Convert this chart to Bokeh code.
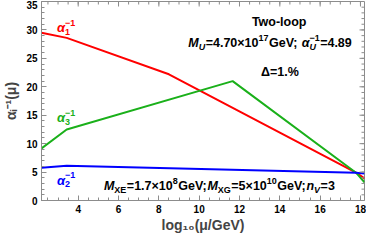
import numpy as np
from bokeh.plotting import figure
from bokeh.models import Label, SingleIntervalTicker
from bokeh.embed import file_html
from bokeh.resources import INLINE

# ---- data ----
mu_a1 = [2.18, 3.43, 8.5, 17.78, 18.2]
inv_a1 = [29.5, 28.6, 22.2, 4.89, 3.9]
mu_a3 = [2.18, 3.43, 11.66, 17.78, 18.2]
inv_a3 = [9.15, 12.5, 21.0, 4.89, 3.2]
mu_a2 = [2.18, 3.43, 17.78, 18.2]
inv_a2 = [5.76, 6.1, 4.89, 4.75]
x_range = (2.18, 18.2)
y_range = (0, 35)
x_major, x_minor_n = 2, 4
y_major, y_minor_n = 5, 5

RED = "#FF0000"
GREEN = "#1AB01A"
BLUE = "#0000FF"
FRAME = "#8C8C8C"
FONT = "Liberation Sans"

p = figure(width=366, height=236, x_range=x_range, y_range=y_range,
           output_backend="svg", toolbar_location=None,
           min_border_left=0, min_border_right=2, min_border_top=1, min_border_bottom=36)
p.xgrid.visible = False
p.ygrid.visible = False
p.outline_line_color = FRAME
p.background_fill_color = "white"

p.line(mu_a1, inv_a1, line_color=RED, line_width=2)
p.line(mu_a3, inv_a3, line_color=GREEN, line_width=2)
p.line(mu_a2, inv_a2, line_color=BLUE, line_width=2)

for ax in (p.xaxis[0], p.yaxis[0]):
    ax.axis_line_color = FRAME
    ax.major_tick_line_color = FRAME
    ax.minor_tick_line_color = FRAME
    ax.major_tick_in = 5
    ax.major_tick_out = 0
    ax.minor_tick_in = 3
    ax.minor_tick_out = 0
    ax.major_label_text_font = FONT
    ax.major_label_text_font_style = "bold"
    ax.major_label_text_font_size = "10px"
    ax.major_label_text_color = "black"

p.xaxis.ticker = SingleIntervalTicker(interval=x_major, num_minor_ticks=x_minor_n)
p.yaxis.ticker = SingleIntervalTicker(interval=y_major, num_minor_ticks=y_minor_n)
p.xaxis.major_label_standoff = 4
p.yaxis.major_label_standoff = 4
p.xaxis.axis_label = "log\u2081\u2080(\u03bc/GeV)"
p.xaxis.axis_label_text_font = FONT
p.xaxis.axis_label_text_font_style = "bold"
p.xaxis.axis_label_text_font_size = "14px"
p.xaxis.axis_label_standoff = 1
p.yaxis.axis_label = "\u03b1\u1d62\u207b\u00b9(\u03bc)"
p.yaxis.axis_label_text_font = FONT
p.yaxis.axis_label_text_font_style = "bold"
p.yaxis.axis_label_text_font_size = "14px"
p.yaxis.axis_label_standoff = 4

# frame ticks on the top and right edges (inward)
xs_minor = np.arange(0, 20.01, x_major / x_minor_n)
xs_minor = xs_minor[(xs_minor > x_range[0]) & (xs_minor < x_range[1])]
xs_major = xs_minor[np.isclose(xs_minor % x_major, 0)]
ys_minor = np.arange(0, 35.01, y_major / y_minor_n)
ys_minor = ys_minor[(ys_minor > y_range[0]) & (ys_minor < y_range[1])]
ys_major = ys_minor[np.isclose(ys_minor % y_major, 0)]
p.ray(x=xs_minor, y=y_range[1], length=3, angle=-np.pi / 2, length_units="screen", line_color=FRAME, line_width=1)
p.ray(x=xs_major, y=y_range[1], length=5, angle=-np.pi / 2, length_units="screen", line_color=FRAME, line_width=1)
p.ray(x=x_range[1], y=ys_minor, length=3, angle=np.pi, length_units="screen", line_color=FRAME, line_width=1)
p.ray(x=x_range[1], y=ys_major, length=5, angle=np.pi, length_units="screen", line_color=FRAME, line_width=1)

# reference pixel -> data helpers (annotation placement only)
def X(px):
    return 2.18 + (px - 37) * (16.02 / 335.0)

def Y(py):
    return (212 - py) * (35.0 / 207.0)

W = {" ": .278, "%": .889, "(": .333, ")": .333, ".": .278, "/": .278, ";": .333,
     "=": .584, "E": .667, "G": .778, "M": .833, "U": .722, "V": .667, "X": .667,
     "e": .556, "n": .611, "o": .611, "p": .611, "w": .778, "l": .278, "T": .611,
     "\u00d7": .584, "\u03b1": .62, "\u0394": .68, "\u2212": .584, "-": .333}

def tw(s, size):
    return sum(W.get(c, .556) for c in s) * size

def run(items, cx_px, cy_px, base=12.5, script=9, color="black", align="center"):
    widths = []
    for it in items:
        kind = it[1]
        if kind == "base":
            widths.append(tw(it[0], base))
        elif kind in ("sub", "sup"):
            widths.append(tw(it[0], script) + 0.5)
        else:
            widths.append(max(tw(it[0][0], script), tw(it[0][1], script)) + 0.5)
    total = sum(widths)
    cur = -total / 2 if align == "center" else 0
    x0 = X(cx_px)
    y0 = Y(cy_px)
    for it, w in zip(items, widths):
        txt, kind, ital = it
        if kind == "stack":
            parts = [(txt[0], -4, ital), (txt[1], 5, False)]
        else:
            parts = [(txt, {"base": 0, "sub": -4, "sup": 5}[kind], ital)]
        for t, dy, it_style in parts:
            size = base if kind == "base" else script
            st = "bold italic" if it_style else "bold"
            p.add_layout(Label(x=x0, y=y0, x_offset=cur, y_offset=dy, text=t,
                               text_font=FONT, text_font_size=f"{size}px",
                               text_font_style=st, text_color=color,
                               text_align="left", text_baseline="middle"))
        cur += w

# curve labels
for col, sub, yc in [(RED, "1", 32.5), (GREEN, "3", 126), (BLUE, "2", 191)]:
    run([("\u03b1", "base", True), ((sub, "\u22121"), "stack", False)],
        53, yc, base=13, script=9, color=col, align="left")

# annotations
run([("Two-loop", "base", False)], 284, 26)
run([("M", "base", True), ("U", "sub", True), ("=4.70\u00d710", "base", False),
     ("17", "sup", False), ("GeV; ", "base", False), ("\u03b1", "base", True),
     (("U", "\u22121"), "stack", True), ("=4.89", "base", False)], 274, 48)
run([("\u0394=1.%", "base", False)], 284, 78)
run([("M", "base", True), ("XE", "sub", False), ("=1.7\u00d710", "base", False),
     ("8", "sup", False), ("GeV;", "base", False), ("M", "base", True),
     ("XG", "sub", False), ("=5\u00d710", "base", False), ("10", "sup", False),
     ("GeV;", "base", False), ("n", "base", True), ("V", "sub", True),
     ("=3", "base", False)], 221.5, 197)

open("out.html", "w").write(file_html(p, INLINE))
